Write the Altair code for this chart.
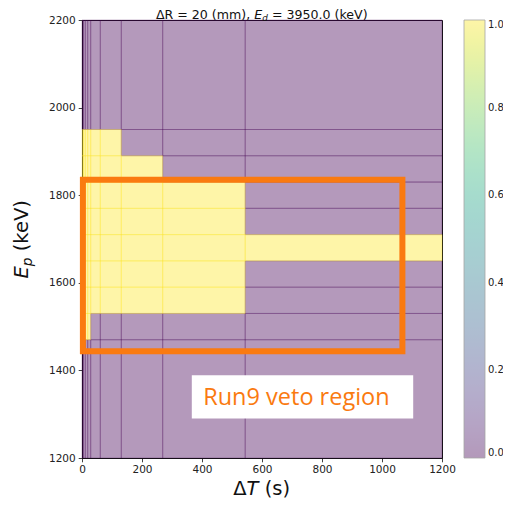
import altair as alt
import pandas as pd

# ---- data ----
x_edges = [0, 5, 11, 19, 29, 61, 131, 269, 544, 1200]          # Delta T bin edges (s)
y_edges = [1200, 1470, 1530, 1590, 1650, 1710, 1770, 1830, 1890, 1950, 2200]  # E_p bin edges (keV)
# one row per E_p bin (bottom to top), one value per Delta T bin
veto_rows = [
    [0, 0, 0, 0, 0, 0, 0, 0, 0],
    [1, 1, 1, 1, 0, 0, 0, 0, 0],
    [1, 1, 1, 1, 1, 1, 1, 1, 0],
    [1, 1, 1, 1, 1, 1, 1, 1, 0],
    [1, 1, 1, 1, 1, 1, 1, 1, 1],
    [1, 1, 1, 1, 1, 1, 1, 1, 0],
    [1, 1, 1, 1, 1, 1, 1, 1, 0],
    [1, 1, 1, 1, 1, 1, 1, 0, 0],
    [1, 1, 1, 1, 1, 1, 0, 0, 0],
    [0, 0, 0, 0, 0, 0, 0, 0, 0],
]
x_ticks = [0, 200, 400, 600, 800, 1000, 1200]
y_ticks = [1200, 1400, 1600, 1800, 2000, 2200]
cbar_ticks = [0.0, 0.2, 0.4, 0.6, 0.8, 1.0]

run9_t = [3, 1068]        # orange veto rectangle, Delta T range
run9_e = [1444, 1835]     # orange veto rectangle, E_p range
label_t = [366, 1104]     # white label box
label_e = [1290, 1389]
label_text_t = [404]
label_text_e = [1320]
label_text = ["Run9 veto region"]

ORANGE = "#FA7A10"
FONT = "DejaVu Sans"
W, H = 360, 438
VIRIDIS_LO, VIRIDIS_HI = "#440154", "#FDE725"

cells = []
for i, row in enumerate(veto_rows):
    for j, v in enumerate(row):
        cells.append({"t0": x_edges[j], "t1": x_edges[j + 1],
                      "e0": y_edges[i], "e1": y_edges[i + 1], "v": v})
df_cells = pd.DataFrame(cells)

xs = alt.Scale(domain=[0, 1200], nice=False, zero=False)
ys = alt.Scale(domain=[1200, 2200], nice=False, zero=False)
cs = alt.Scale(scheme="viridis", domain=[0, 1])

enc = dict(
    x=alt.X("t0:Q", scale=xs, axis=alt.Axis(values=x_ticks, title=None, format="d")),
    x2="t1:Q",
    y=alt.Y("e0:Q", scale=ys, axis=alt.Axis(values=y_ticks, title=None, format="d")),
    y2="e1:Q",
)

heat = alt.Chart(df_cells).mark_rect(opacity=0.4).encode(
    color=alt.Color("v:Q", scale=cs, legend=alt.Legend(
        type="gradient", title=None, orient="none", legendX=382, legendY=0,
        direction="vertical",
        gradientLength=H, gradientThickness=21, values=cbar_ticks, format=".1f",
        labelFontSize=10, labelFont=FONT, labelColor="#222", labelOffset=3,
        labelBaseline="middle", labelOverlap=False, padding=0,
        gradientStrokeColor="#222", gradientStrokeWidth=0.8)),
    **enc,
)

edges_lo = alt.Chart(df_cells).transform_filter("datum.v < 0.5").mark_rect(
    filled=False, stroke=VIRIDIS_LO, strokeOpacity=0.35, strokeWidth=0.8).encode(**enc)
edges_hi = alt.Chart(df_cells).transform_filter("datum.v >= 0.5").mark_rect(
    filled=False, stroke=VIRIDIS_HI, strokeOpacity=0.4, strokeWidth=0.8).encode(**enc)

veto_box = alt.Chart(pd.DataFrame({"t0": [run9_t[0]], "t1": [run9_t[1]],
                                   "e0": [run9_e[0]], "e1": [run9_e[1]]})).mark_rect(
    filled=False, stroke=ORANGE, strokeWidth=6).encode(
    x=alt.X("t0:Q", scale=xs, title=None), x2="t1:Q",
    y=alt.Y("e0:Q", scale=ys, title=None), y2="e1:Q")

label_box = alt.Chart(pd.DataFrame({"t0": [label_t[0]], "t1": [label_t[1]],
                                    "e0": [label_e[0]], "e1": [label_e[1]]})).mark_rect(
    color="white", opacity=1).encode(
    x=alt.X("t0:Q", scale=xs, title=None), x2="t1:Q",
    y=alt.Y("e0:Q", scale=ys, title=None), y2="e1:Q")

label = alt.Chart(pd.DataFrame({"t": label_text_t, "e": label_text_e, "s": label_text})).mark_text(
    font="Open Sans", fontSize=23.5, color=ORANGE, align="left", baseline="alphabetic").encode(
    x=alt.X("t:Q", scale=xs, title=None), y=alt.Y("e:Q", scale=ys, title=None), text="s:N")


def piece(txt, x, y, size, italic=False, angle=0):
    kw = dict(text=txt, font=FONT, fontSize=size, align="left", baseline="alphabetic",
              color="#111")
    if italic:
        kw["fontStyle"] = "italic"
    if angle:
        kw["angle"] = angle
    return alt.Chart(alt.Data(values=[{}])).mark_text(**kw).encode(
        x=alt.value(x), y=alt.value(y))


SP = 0.318  # DejaVu space width (em)

# title: "ΔR = 20 (mm), E_d = 3950.0 (keV)"
t_size = 12.6
ty = -1.4
title_parts = [
    piece("ΔR = 20 (mm),", 73.9, ty, t_size),
    piece("E", 172.3, ty, t_size, italic=True),
    piece("d", 180.3, ty + 2.3, 8.8, italic=True),
    piece("= 3950.0 (keV)", 185.9 + SP * t_size, ty, t_size),
]
# x title: "ΔT (s)"
a_size = 19.5
xy = H + 37
xtitle = [
    piece("Δ", 151.2, xy, a_size),
    piece("T", 164.6, xy, a_size, italic=True),
    piece("(s)", 176.5 + SP * a_size, xy, a_size),
]
# y title: "E_p (keV)" rotated
yc = H / 2
ytitle = [
    piece("E", -54, yc + 39.5, a_size, italic=True, angle=270),
    piece("p", -50.5, yc + 27.2, 13.65, italic=True, angle=270),
    piece("(keV)", -54, yc + 18.5 - SP * a_size, a_size, angle=270),
]

chart = alt.layer(heat, edges_lo, edges_hi, veto_box, label_box, label,
                  *title_parts, *xtitle, *ytitle).properties(
    width=W, height=H,
    autosize=alt.AutoSizeParams(type="none"),
    padding={"left": 74, "top": 12, "right": 61, "bottom": 42},
).configure_view(stroke="#111", strokeWidth=1).configure_axis(
    labelFont=FONT, labelFontSize=10.5, labelColor="#222", labelFlush=False,
    tickColor="#111", tickSize=3.8, tickWidth=0.8, domainColor="#111", domainWidth=1,
    grid=False, labelPadding=3, zindex=1,
)

chart.save("out.html", embed_options={"renderer": "svg", "actions": False})
